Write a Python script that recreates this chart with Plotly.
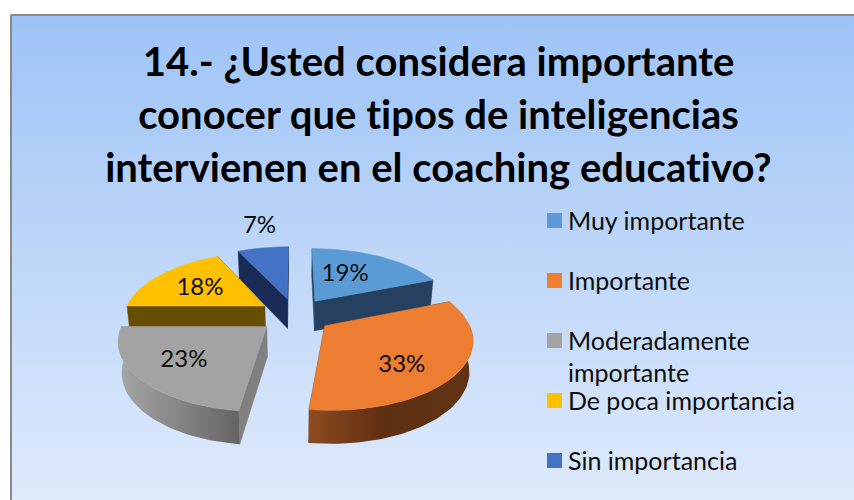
import math
import plotly.graph_objects as go

# ---- data ----
categories = ["Muy importante", "Importante", "Moderadamente<br>importante",
              "De poca importancia", "Sin importancia"]
values = [19, 33, 23, 18, 7]
title_lines = ["14.- ¿Usted considera importante",
               "conocer que tipos de inteligencias",
               "intervienen en el coaching educativo?"]

# ---- style ----
top_colors = ["#5B9BD5", "#ED7D31", "#A3A3A3", "#FFC000", "#4472C4"]
wall_colors = ["#254061", "#5F3012", "#808080", "#664D00", "#1A2C55"]
rim_scales = [
    [[0, "#254061"], [1, "#254061"]],
    [[0, "#8E4B20"], [0.45, "#5F2F12"], [1, "#5F3414"]],
    [[0, "#A6A6A6"], [1, "#646464"]],
    [[0, "#664D00"], [1, "#664D00"]],
    [[0, "#1A2C55"], [1, "#1A2C55"]],
]
# label placement inside each wedge: radius factor, fraction of the wedge sweep
label_radius = [0.52, 0.70, 0.68, 0.58, 1.50]
label_sweep = [0.42, 0.59, 0.50, 0.46, 0.59]

CX, CY = 295, 315        # pie centre
R, RY = 141, 66          # radius across / along the tilted axis
PERSP = 0.17             # perspective strength
DEPTH = 30               # extrusion height
EXPLODE = 0.26           # explosion, in radii
BOTTOM_SHRINK = 0.98


def project(off, deg, radius=1.0, lower=False):
    """off = explosion offset of the wedge on the pie's plane."""
    a = math.radians(deg)
    x = off[0] + radius * math.sin(a)
    y = off[1] + radius * math.cos(a)
    p = 1 / (1 + PERSP * y)
    sx = CX + R * x * p * (BOTTOM_SHRINK if lower else 1)
    sy = CY - RY * y * p + (DEPTH * math.sqrt(p) if lower else 0)
    return sx, sy


def poly(pts, **kw):
    xs = [p[0] for p in pts] + [pts[0][0]]
    ys = [p[1] for p in pts] + [pts[0][1]]
    return go.Scatter(x=xs, y=ys, mode="lines", fill="toself", showlegend=False,
                      hoverinfo="skip", **kw)


fig = go.Figure()

# chart-area background (runs past the right and bottom of the picture)
PX0, PX1, PY0, PY1 = 11, 870, 15, 500
fig.add_trace(poly([(PX0, PY0), (PX1, PY0), (PX1, PY1 + 20), (PX0, PY1 + 20)],
                   line=dict(color="#8A8A8A", width=2),
                   fillgradient=dict(type="vertical", start=PY0, stop=PY1,
                                     colorscale=[[0, "#9DC3F6"], [1, "#DFEAFB"]])))

# wedge geometry from the values
total = sum(values)
starts, acc = [], 0
for v in values:
    starts.append(acc / total * 360)
    acc += v
wedges = []
for i, v in enumerate(values):
    a0 = starts[i]
    a1 = a0 + v / total * 360
    mid = math.radians((a0 + a1) / 2)
    off = (EXPLODE * math.sin(mid), EXPLODE * math.cos(mid))
    wedges.append((i, a0, a1, off))


def arc(a0, a1, off, lower=False, n=48):
    return [project(off, a0 + (a1 - a0) * k / n, lower=lower) for k in range(n + 1)]


# paint back to front
order = [4, 0, 3, 2, 1]
for i in order:
    _, a0, a1, off = wedges[i]
    apex = project(off, 0, radius=0)
    low_apex = project(off, 0, radius=0, lower=True)
    for edge in (a0, a1):
        t = project(off, edge)
        b = project(off, edge, lower=True)
        fig.add_trace(poly([apex, t, b, low_apex], fillcolor=wall_colors[i],
                           line=dict(color=wall_colors[i], width=0.5)))
    r0, r1 = max(a0, 90), min(a1, 270)
    if r1 > r0:
        up = arc(r0, r1, off)
        lo = arc(r0, r1, off, lower=True)
        pts = up + lo[::-1]
        xs = [p[0] for p in pts]
        fig.add_trace(poly(pts, line=dict(width=0),
                           fillgradient=dict(type="horizontal", start=min(xs), stop=max(xs),
                                             colorscale=rim_scales[i])))
    top = [apex] + arc(a0, a1, off)
    fig.add_trace(poly(top, fillcolor=top_colors[i],
                       line=dict(color=top_colors[i], width=0.5)))

# percentage labels
lx, ly, lt = [], [], []
for i, a0, a1, off in wedges:
    x, y = project(off, a0 + (a1 - a0) * label_sweep[i], radius=label_radius[i])
    lx.append(x); ly.append(y)
    lt.append(f"{round(values[i] / total * 100)}%")
fig.add_trace(go.Scatter(x=lx, y=ly, text=lt, mode="text", showlegend=False, hoverinfo="skip",
                         textfont=dict(family="Lato", size=24, color="#0D0D0D")))

# legend, one row every 60 px
LEG_X, LEG_Y, LEG_STEP, LEG_LINE = 554.5, 220.5, 60, 32
for i, cat in enumerate(categories):
    y = LEG_Y + i * LEG_STEP
    fig.add_trace(go.Scatter(x=[LEG_X], y=[y], mode="markers", showlegend=False, hoverinfo="skip",
                             marker=dict(symbol="square", size=15, color=top_colors[i],
                                         line=dict(width=0))))
    for j, line in enumerate(cat.split("<br>")):
        fig.add_annotation(x=LEG_X + 11.5, y=y - 1 + j * LEG_LINE, xref="x", yref="y",
                           text=line, showarrow=False, xanchor="left", yanchor="middle",
                           font=dict(family="Lato", size=25, color="#0D0D0D"))

# title
for j, line in enumerate(title_lines):
    fig.add_annotation(x=438, y=61 + 53 * j, xref="x", yref="y", text=f"<b>{line}</b>",
                       showarrow=False, xanchor="center", yanchor="middle",
                       font=dict(family="Lato", size=40, color="#000000"))

fig.update_xaxes(range=[0, 854], visible=False, fixedrange=True)
fig.update_yaxes(range=[500, 0], visible=False, fixedrange=True)
fig.update_layout(width=854, height=500, margin=dict(l=0, r=0, t=0, b=0),
                  paper_bgcolor="white", plot_bgcolor="white", showlegend=False)
fig.write_html("out.html", config={"displayModeBar": False}, post_script=(
    "document.body.style.margin='0';"
    "var s=document.createElement('style');"
    "s.textContent='svg text{font-variant-ligatures:none !important;"
    "font-feature-settings:\"liga\" 0,\"clig\" 0 !important;letter-spacing:0.01px}';"
    "document.head.appendChild(s);"))
